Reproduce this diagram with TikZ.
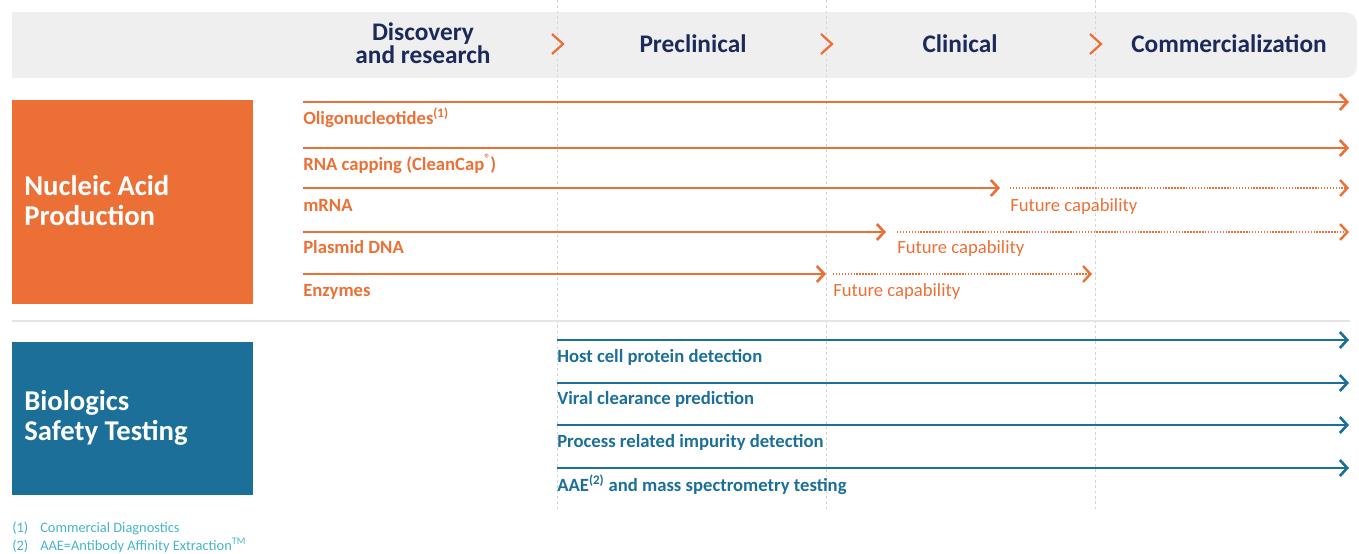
\documentclass[tikz,border=0pt]{standalone}
\usepackage{fontspec}
\setmainfont{Carlito}
\usetikzlibrary{arrows.meta}

\definecolor{nucorange}{HTML}{EC7035}
\definecolor{bioblue}{HTML}{1B6F98}
\definecolor{navy}{HTML}{1C2A5B}
\definecolor{headgray}{HTML}{EFEFEF}
\definecolor{sepgray}{HTML}{E4E4E4}
\definecolor{notecyan}{HTML}{45B5C5}

\tikzset{
  phase/.style={font=\fontsize{19}{17}\selectfont\bfseries, text=navy, align=center, inner sep=0pt},
  areabox/.style={anchor=west, align=left, inner sep=0pt, text=white,
    font=\fontsize{21.5}{22.5}\selectfont\bfseries},
  item/.style={anchor=base west, inner sep=0pt, font=\fontsize{14}{16}\selectfont\bfseries},
  future/.style={anchor=base west, inner sep=0pt, font=\fontsize{14}{16}\selectfont, text=nucorange},
  note/.style={anchor=base west, inner sep=0pt, font=\fontsize{10.8}{12}\selectfont, text=notecyan},
  solidarrow/.style={line width=2.1pt, -{Straight Barb[length=5.5pt,width=12pt,line width=2pt]}},
  dotarrow/.style={line width=1.8pt, dash pattern=on 1.1pt off 1.1pt,
    -{Straight Barb[length=5.5pt,width=12pt,line width=1.8pt,sep=0pt]}},
  chevron/.style={draw=nucorange, line width=1.7pt},
}

\begin{document}
\begin{tikzpicture}[x=0.75pt,y=-0.75pt]
\useasboundingbox (0,0) rectangle (1359,553);

% header bar
\fill[headgray] (12,12) [rounded corners=9pt] -- (1357,12) -- (1357,78) [sharp corners] -- (12,78) -- cycle;

% phase separators
\foreach \x in {557,826,1095}
  \draw[black!16, line width=0.6pt, dash pattern=on 2pt off 2pt] (\x,0) -- (\x,510);

\node[phase] (disc) at (423,43) {Discovery\\and research};
\node[phase] (precl) at (693,44) {Preclinical};
\node[phase] (clin) at (960,44) {Clinical};
\node[phase] (comm) at (1229,44) {Commercialization};

\foreach \x in {557,826,1095}
  \draw[chevron] (\x-5,34) -- (\x+6,44) -- (\x-5,54);

% area boxes
\fill[nucorange] (12,100) rectangle (253,304);
\node[areabox] (nap) at (24,201) {Nucleic Acid\\Production};
\fill[bioblue] (12,342) rectangle (253,495);
\node[areabox] (bst) at (24,418) {Biologics\\Safety Testing};

\draw[sepgray, line width=1.5pt] (12,321) -- (1350,321);

% nucleic acid rows
\coordinate (oliS) at (303,102);  \coordinate (oliE) at (1349,102);
\coordinate (rnaS) at (303,148);  \coordinate (rnaE) at (1349,148);
\coordinate (mrnaS) at (303,188); \coordinate (mrnaM) at (1000,188);
\coordinate (mrnaF) at (1010,188); \coordinate (mrnaE) at (1349,188);
\coordinate (plaS) at (303,232);  \coordinate (plaM) at (886,232);
\coordinate (plaF) at (897,232);  \coordinate (plaE) at (1349,232);
\coordinate (enzS) at (303,274);  \coordinate (enzM) at (826,274);
\coordinate (enzF) at (833,274);  \coordinate (enzE) at (1092,274);

\draw[solidarrow, nucorange] (oliS) -- (oliE);
\draw[solidarrow, nucorange] (rnaS) -- (rnaE);
\draw[solidarrow, nucorange] (mrnaS) -- (mrnaM);
\draw[dotarrow, nucorange] (mrnaF) -- (mrnaE);
\draw[solidarrow, nucorange] (plaS) -- (plaM);
\draw[dotarrow, nucorange] (plaF) -- (plaE);
\draw[solidarrow, nucorange] (enzS) -- (enzM);
\draw[dotarrow, nucorange] (enzF) -- (enzE);

\node[item, text=nucorange] (oli) at (303,124) {Oligonucleotides\textsuperscript{(1)}};
\node[item, text=nucorange] (rna) at (303,170) {RNA capping (CleanCap\raisebox{.42em}{\fontsize{9}{9}\selectfont ®})};
\node[item, text=nucorange] (mrna) at (303,211) {mRNA};
\node[item, text=nucorange] (pla) at (303,253) {Plasmid DNA};
\node[item, text=nucorange] (enz) at (303,296) {Enzymes};
\node[future] (mrnafut) at (1010,211) {Future capability};
\node[future] (plafut) at (897,253) {Future capability};
\node[future] (enzfut) at (833,296) {Future capability};

% biologics rows
\coordinate (hcpS) at (557,340); \coordinate (hcpE) at (1349,340);
\coordinate (vcpS) at (557,383); \coordinate (vcpE) at (1349,383);
\coordinate (prdS) at (557,425); \coordinate (prdE) at (1349,425);
\coordinate (aaeS) at (557,468); \coordinate (aaeE) at (1349,468);

\draw[solidarrow, bioblue] (hcpS) -- (hcpE);
\draw[solidarrow, bioblue] (vcpS) -- (vcpE);
\draw[solidarrow, bioblue] (prdS) -- (prdE);
\draw[solidarrow, bioblue] (aaeS) -- (aaeE);

\node[item, text=bioblue] (hcp) at (557,362) {Host cell protein detection};
\node[item, text=bioblue] (vcp) at (557,404) {Viral clearance prediction};
\node[item, text=bioblue] (prd) at (557,447) {Process related impurity detection};
\node[item, text=bioblue] (aae) at (557,491) {AAE\textsuperscript{(2)} and mass spectrometry testing};

% footnotes
\node[note] (n1num) at (12,532) {(1)};
\node[note] (n1) at (40,532) {Commercial Diagnostics};
\node[note] (n2num) at (12,550) {(2)};
\node[note] (n2) at (40,550) {AAE=Antibody Affinity Extraction\textsuperscript{TM}};

\end{tikzpicture}
\end{document}
